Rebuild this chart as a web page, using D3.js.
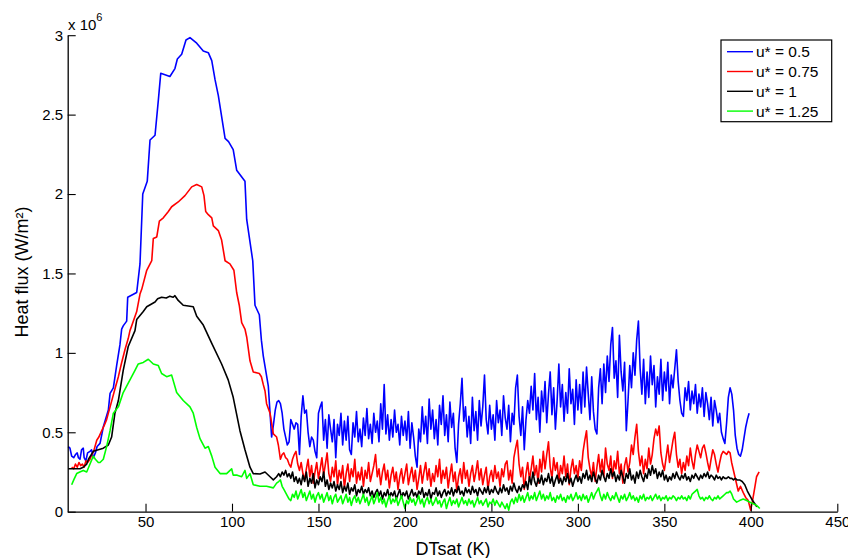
<!DOCTYPE html>
<html>
<head>
<meta charset="utf-8">
<script src="https://cdn.jsdelivr.net/npm/d3@7"></script>
<style>
  body { margin: 0; background: #fff; }
  svg { display: block; font-family: "Liberation Sans", Arial, Helvetica, sans-serif; }
</style>
</head>
<body>
<svg id="chart" width="848" height="558"></svg>
<script>
// Axis ticks: DTsat in K, heat flux in units of 10^6 W/m²
const xTicks = [50, 100, 150, 200, 250, 300, 350, 400, 450];
const yTicks = [0, 0.5, 1, 1.5, 2, 2.5, 3];

const seriesLabels = ["u* = 0.5", "u* = 0.75", "u* = 1", "u* = 1.25"];
const seriesColors = ["#0000ff", "#ff0000", "#000000", "#00ff00"];

// ---- u* = 0.5 ----
// boiling peak (irregular DTsat spacing)
const u05LeadT = [5.3, 6.3, 7.3, 8.5, 9.5, 10.5, 11.2, 12.1, 13.0, 14.0, 14.5, 15.5, 16.5, 17.9, 18.8, 19.8, 21.0, 22.0,
  23.7, 25.6, 28.5, 29.5, 31.4, 33.3, 35.2, 36.2, 37.1, 39.1, 39.7, 44.9, 46.8, 48.4, 51.0, 52.6, 55.5, 57.4, 58.8,
  64.1, 67.0, 68.4, 70.9, 73.4, 75.7, 79.6, 83.4, 86.3, 88.3, 90.2, 92.1, 96.0, 98.0, 100.7, 102.7, 107.5, 108.5,
  112.0, 113.3, 115.8, 117.0, 118.1, 121.0, 122.9];
const u05LeadQ = [0.41, 0.40, 0.35, 0.34, 0.36, 0.37, 0.34, 0.33, 0.39, 0.40, 0.34, 0.32, 0.37, 0.38, 0.39, 0.34, 0.37, 0.41,
  0.43, 0.535, 0.64, 0.745, 0.78, 0.92, 1.05, 1.15, 1.17, 1.20, 1.35, 1.38, 1.56, 2.00, 2.08, 2.34, 2.37, 2.59, 2.76,
  2.74, 2.79, 2.85, 2.88, 2.97, 2.985, 2.95, 2.90, 2.89, 2.84, 2.72, 2.62, 2.35, 2.33, 2.28, 2.15, 2.08, 1.84,
  1.58, 1.30, 1.24, 1.08, 0.98, 0.79, 0.47];
// film-boiling plateau, one reading per 1 K from DTsat = 124 K
const u05NoiseFrom = 124;
const u05Noise = [
  0.55, 0.64, 0.69, 0.70, 0.68, 0.62, 0.52, 0.47, 0.42, 0.44, 0.58, 0.55, 0.52, 0.56, 0.55, 0.36, 0.60, 0.73, 0.62, 0.64,
  0.50, 0.41, 0.47, 0.45, 0.38, 0.34, 0.62,
  0.66, 0.69, 0.45, 0.58, 0.40, 0.61, 0.52, 0.44, 0.58, 0.34, 0.55, 0.48, 0.62, 0.42, 0.57, 0.45, 0.60, 0.39, 0.36, 0.56,
  0.47, 0.63, 0.44, 0.52, 0.41, 0.59, 0.48, 0.65, 0.46, 0.55, 0.43, 0.62, 0.50, 0.57, 0.44, 0.68, 0.52, 0.80, 0.49, 0.61,
  0.45, 0.58, 0.47, 0.64, 0.50, 0.55, 0.42, 0.60, 0.48, 0.57,
  0.45, 0.63, 0.40, 0.56, 0.47, 0.35, 0.28, 0.52, 0.44, 0.66, 0.49, 0.60, 0.43, 0.71, 0.52, 0.64, 0.46, 0.58, 0.42, 0.67,
  0.55, 0.73, 0.48, 0.61, 0.44, 0.69, 0.53, 0.62, 0.40, 0.31, 0.55, 0.68, 0.84, 0.57, 0.66, 0.47, 0.60, 0.43, 0.72, 0.51,
  0.63, 0.45, 0.70, 0.54, 0.66, 0.86, 0.58, 0.49, 0.67, 0.52,
  0.61, 0.45, 0.70, 0.56, 0.64, 0.48, 0.73, 0.59, 0.52, 0.67, 0.44, 0.62, 0.55, 0.78, 0.86, 0.60, 0.48, 0.66, 0.39, 0.58,
  0.70, 0.62, 0.79, 0.64, 0.87, 0.58, 0.72, 0.50, 0.76, 0.63, 0.82, 0.56, 0.74, 0.88, 0.61, 0.78, 0.52, 0.70, 0.93, 0.66,
  0.80, 0.57, 0.75, 0.62, 0.90, 0.68, 0.77, 0.55, 0.83, 0.64,
  0.80, 0.62, 0.88, 0.66, 0.91, 0.74, 0.58, 0.85, 0.63, 0.52, 0.49, 0.78, 0.90, 0.68, 0.93, 0.75, 0.98, 0.82, 1.05, 1.16,
  0.84, 0.95, 0.72, 1.11, 0.88, 0.76, 0.94, 0.51, 0.70, 0.92, 0.78, 1.00, 0.86, 1.08, 1.20, 0.90, 0.74, 0.96, 0.68, 0.88,
  0.72, 0.98, 0.80, 0.92, 0.66, 0.85, 0.74, 0.96, 0.70, 0.88,
  0.76, 0.94, 0.68, 0.86, 0.78, 0.90, 1.02, 0.82, 0.70, 0.62, 0.60, 0.78, 0.70, 0.82, 0.64, 0.76, 0.68, 0.80, 0.62, 0.74,
  0.66, 0.78, 0.60, 0.75, 0.68, 0.58, 0.72, 0.54, 0.70, 0.64, 0.56, 0.62, 0.50, 0.46, 0.43, 0.56, 0.72, 0.78, 0.74, 0.64,
  0.48, 0.40, 0.36, 0.35, 0.39, 0.46, 0.53, 0.58, 0.62];
const u05TailT = [];
const u05TailQ = [];

// ---- u* = 0.75 ----
const u075LeadT = [7.3, 8.5, 9.5, 10.5, 11.5, 12.5, 13.5, 14.5, 15.5, 16.5, 17.9, 19.0, 20.0, 21.8, 23.0, 24.7, 26.0,
  27.5, 29.5, 31.0, 32.5, 34.3, 36.0, 38.1, 40.0, 41.0, 42.0, 44.9, 46.8, 47.8, 50.7, 53.6, 54.5, 56.5, 58.0, 60.3,
  63.2, 65.1, 68.9, 72.8, 76.7, 79.6, 82.5, 83.8, 84.8, 86.3, 88.3, 89.2, 92.1, 94.0, 96.0, 98.8, 101.1, 102.7,
  104.2, 105.6, 107.5, 108.5, 110.4, 112.3, 115.8, 117.0, 118.1, 119.1, 120.0, 122.0, 123.9, 125.8, 126.8];
const u075LeadQ = [0.28, 0.27, 0.30, 0.28, 0.31, 0.29, 0.30, 0.28, 0.32, 0.31, 0.33, 0.36, 0.38, 0.45, 0.47, 0.51, 0.54,
  0.58, 0.66, 0.72, 0.78, 0.85, 0.93, 1.02, 1.09, 1.14, 1.17, 1.26, 1.37, 1.40, 1.52, 1.58, 1.72, 1.73, 1.83, 1.85,
  1.89, 1.92, 1.95, 1.99, 2.045, 2.06, 2.045, 1.99, 1.89, 1.87, 1.85, 1.80, 1.77, 1.71, 1.58, 1.56, 1.52, 1.38,
  1.30, 1.19, 1.15, 1.10, 0.95, 0.88, 0.87, 0.85, 0.80, 0.76, 0.68, 0.62, 0.49, 0.47, 0.42];
const u075NoiseFrom = 128;
const u075Noise = [
  0.33, 0.36, 0.37, 0.34, 0.33, 0.30, 0.28, 0.33, 0.36, 0.38, 0.30, 0.26, 0.31, 0.24, 0.20, 0.27, 0.33, 0.22, 0.29, 0.18,
  0.25, 0.31, 0.21, 0.27, 0.34, 0.23, 0.30, 0.37, 0.24, 0.19, 0.28, 0.22, 0.32, 0.17, 0.26, 0.21, 0.29, 0.15, 0.24, 0.30,
  0.19, 0.27, 0.22, 0.33, 0.18, 0.25, 0.20, 0.28, 0.16, 0.26, 0.21, 0.31, 0.19, 0.24, 0.29, 0.36, 0.22, 0.27, 0.17, 0.25,
  0.30, 0.20, 0.26, 0.15, 0.23, 0.28, 0.19, 0.25, 0.14, 0.22, 0.27, 0.18, 0.24,
  0.30, 0.17, 0.23, 0.28, 0.19, 0.26, 0.14, 0.21, 0.29, 0.18, 0.25, 0.31, 0.20, 0.27, 0.16, 0.24, 0.19, 0.29, 0.22, 0.33,
  0.18, 0.26, 0.21, 0.28, 0.15, 0.23, 0.30, 0.19, 0.25, 0.13, 0.22, 0.27, 0.18, 0.31, 0.21, 0.26, 0.16, 0.24, 0.29, 0.19,
  0.25, 0.32, 0.20, 0.27, 0.17, 0.23, 0.28, 0.14, 0.22, 0.26,
  0.19, 0.29, 0.21, 0.25, 0.16, 0.27, 0.22, 0.30, 0.32, 0.20, 0.26, 0.18, 0.34, 0.40, 0.45, 0.30, 0.22, 0.28, 0.14, 0.24,
  0.31, 0.20, 0.27, 0.35, 0.23, 0.29, 0.18, 0.33, 0.25, 0.38, 0.27, 0.36, 0.44, 0.28, 0.21, 0.34, 0.26, 0.31, 0.19, 0.29,
  0.24, 0.35, 0.22, 0.30, 0.17, 0.27, 0.33, 0.24, 0.29, 0.21,
  0.32, 0.26, 0.38, 0.45, 0.51, 0.34, 0.27, 0.22, 0.31, 0.19, 0.28, 0.36, 0.25, 0.33, 0.22, 0.40, 0.30, 0.26, 0.35, 0.21,
  0.32, 0.27, 0.38, 0.24, 0.30, 0.18, 0.29, 0.34, 0.25, 0.31, 0.42, 0.36, 0.47, 0.55, 0.38, 0.29, 0.35, 0.24, 0.33, 0.27,
  0.40, 0.30, 0.36, 0.46, 0.52, 0.48, 0.54, 0.37, 0.30, 0.26,
  0.34, 0.42, 0.31, 0.38, 0.45, 0.50, 0.36, 0.28, 0.33, 0.24, 0.31, 0.26, 0.35, 0.29, 0.40, 0.32, 0.27, 0.36, 0.42, 0.38,
  0.34, 0.40, 0.42, 0.37, 0.31, 0.26, 0.33, 0.39, 0.36, 0.30, 0.25, 0.31, 0.36, 0.38, 0.37, 0.36];
const u075TailT = [387.0, 388.0, 388.9, 390.8, 392.7, 394.0, 395.6, 397.0, 398.5, 399.9, 401.0, 402.4, 403.3, 404.8];
const u075TailQ = [0.38, 0.37, 0.31, 0.22, 0.13, 0.16, 0.12, 0.09, 0.07, 0.01, 0.07, 0.16, 0.22, 0.25];

// ---- u* = 1 ----
const u1LeadT = [5.3, 7.0, 9.0, 11.0, 12.1, 14.0, 16.0, 17.0, 19.8, 22.7, 25.6, 28.5, 30.4, 32.3, 34.3, 37.1, 40.0,
  43.9, 44.9, 48.7, 50.7, 55.5, 57.0, 59.3, 62.0, 64.1, 66.0, 67.0, 68.9, 71.8, 77.6, 79.6, 83.4, 88.3, 94.0, 97.8,
  100.7, 104.6, 107.5, 110.4, 112.3, 116.2, 119.1, 122.0, 123.9, 125.8];
const u1LeadQ = [0.27, 0.27, 0.27, 0.27, 0.27, 0.28, 0.30, 0.33, 0.38, 0.39, 0.40, 0.42, 0.47, 0.62, 0.70, 0.89, 1.04,
  1.14, 1.21, 1.26, 1.29, 1.32, 1.34, 1.35, 1.345, 1.357, 1.35, 1.36, 1.33, 1.30, 1.29, 1.23, 1.175, 1.06, 0.93, 0.83,
  0.72, 0.51, 0.39, 0.28, 0.24, 0.237, 0.25, 0.22, 0.20, 0.22];
const u1NoiseFrom = 127;
const u1Noise = [
  0.24, 0.22, 0.25, 0.23, 0.26, 0.22, 0.24, 0.21, 0.25, 0.19, 0.22, 0.18, 0.21, 0.17, 0.23, 0.19, 0.25, 0.16, 0.21, 0.18,
  0.24, 0.15, 0.20, 0.17, 0.22, 0.19, 0.25, 0.16, 0.20, 0.14, 0.18, 0.15, 0.19, 0.13, 0.17, 0.14, 0.19, 0.12, 0.16, 0.13,
  0.18, 0.11, 0.15, 0.13, 0.17, 0.10, 0.14, 0.12, 0.16, 0.11, 0.14, 0.12, 0.15, 0.10, 0.13, 0.09, 0.12, 0.14, 0.10, 0.13,
  0.08, 0.12, 0.10, 0.14, 0.09, 0.12, 0.10, 0.13, 0.08, 0.11, 0.14, 0.09, 0.12, 0.10,
  0.13, 0.08, 0.11, 0.14, 0.10, 0.12, 0.09, 0.13, 0.11, 0.15, 0.09, 0.12, 0.10, 0.14, 0.08, 0.12, 0.11, 0.15, 0.10, 0.13,
  0.09, 0.12, 0.14, 0.10, 0.13, 0.11, 0.15, 0.10, 0.14, 0.12, 0.16, 0.11, 0.13, 0.10, 0.15, 0.12, 0.14, 0.11, 0.16, 0.12,
  0.14, 0.10, 0.15, 0.13, 0.11, 0.15, 0.12, 0.16, 0.11, 0.14,
  0.12, 0.16, 0.13, 0.11, 0.15, 0.12, 0.17, 0.13, 0.15, 0.11, 0.16, 0.13, 0.18, 0.14, 0.12, 0.16, 0.13, 0.17, 0.15, 0.19,
  0.14, 0.22, 0.17, 0.25, 0.19, 0.16, 0.21, 0.18, 0.23, 0.17, 0.21, 0.19, 0.24, 0.18, 0.22, 0.16, 0.20, 0.23, 0.18, 0.21,
  0.17, 0.22, 0.19, 0.24, 0.18, 0.21, 0.16, 0.20, 0.23, 0.19, 0.22, 0.18, 0.24, 0.21, 0.26, 0.20, 0.23, 0.19, 0.25, 0.21,
  0.18, 0.23, 0.20, 0.26, 0.22, 0.19, 0.24, 0.21, 0.27, 0.22, 0.25, 0.19, 0.23, 0.20, 0.26, 0.22, 0.18, 0.24, 0.21, 0.27,
  0.20, 0.23, 0.18, 0.25, 0.21, 0.26, 0.22, 0.19, 0.24, 0.21,
  0.27, 0.23, 0.29, 0.24, 0.27, 0.21, 0.25, 0.22, 0.26, 0.20, 0.23, 0.19, 0.22, 0.20, 0.24, 0.21, 0.25, 0.22, 0.20, 0.23,
  0.21, 0.24, 0.20, 0.22, 0.19, 0.23, 0.21, 0.24, 0.22, 0.20, 0.23, 0.21, 0.24, 0.22, 0.25, 0.21, 0.23, 0.22, 0.20, 0.23,
  0.21, 0.22, 0.20, 0.22, 0.21, 0.21, 0.22, 0.21, 0.21, 0.20, 0.21, 0.20];
const u1TailT = [393.5, 395.0, 396.5, 398.0, 399.5, 401.0, 402.3, 403.5];
const u1TailQ = [0.20, 0.19, 0.17, 0.13, 0.10, 0.07, 0.05, 0.03];

// ---- u* = 1.25 ----
const u125LeadT = [7.3, 8.5, 10.2, 12.0, 14.0, 16.0, 17.9, 19.8, 21.0, 22.7, 23.7, 25.6, 27.5, 29.5, 31.4, 34.3, 37.1,
  41.0, 43.9, 45.8, 48.7, 51.6, 54.5, 57.4, 59.3, 62.2, 65.1, 68.0, 71.8, 75.7, 77.6, 79.6, 81.5, 84.4, 86.3, 88.3,
  90.2, 93.1, 96.9, 99.8, 100.7, 103.0, 105.6, 107.5, 108.5, 110.4, 112.3, 116.2, 120.0, 123.9, 125.8];
const u125LeadQ = [0.17, 0.20, 0.24, 0.25, 0.26, 0.25, 0.30, 0.35, 0.33, 0.31, 0.31, 0.33, 0.41, 0.51, 0.62, 0.66, 0.75,
  0.83, 0.89, 0.93, 0.94, 0.96, 0.93, 0.92, 0.87, 0.85, 0.86, 0.75, 0.70, 0.66, 0.62, 0.53, 0.46, 0.40, 0.41, 0.35,
  0.28, 0.24, 0.24, 0.27, 0.23, 0.23, 0.22, 0.26, 0.21, 0.24, 0.17, 0.16, 0.16, 0.15, 0.18];
const u125NoiseFrom = 127;
const u125Noise = [
  0.19, 0.20, 0.16, 0.14, 0.12, 0.10, 0.08, 0.07, 0.11, 0.09, 0.13, 0.08, 0.11, 0.14, 0.09, 0.12, 0.07, 0.10, 0.13, 0.08,
  0.11, 0.06, 0.10, 0.12, 0.08, 0.11, 0.06, 0.09, 0.12, 0.07, 0.10, 0.05, 0.09, 0.11, 0.06, 0.08, 0.10, 0.05, 0.08, 0.11,
  0.06, 0.09, 0.04, 0.08, 0.10, 0.06, 0.09, 0.05, 0.08, 0.11, 0.06, 0.09, 0.04, 0.07, 0.10, 0.05, 0.08, 0.12, 0.06, 0.09,
  0.05, 0.08, 0.03, 0.07, 0.10, 0.05, 0.08, 0.06, 0.09, 0.04, 0.07, 0.10, 0.06, 0.02,
  0.07, 0.05, 0.09, 0.06, 0.08, 0.04, 0.07, 0.10, 0.05, 0.08, 0.03, 0.07, 0.09, 0.05, 0.08, 0.04, 0.06, 0.09, 0.05, 0.07,
  0.03, 0.06, 0.08, 0.02, 0.06, 0.09, 0.04, 0.07, 0.05, 0.08, 0.03, 0.06, 0.09, 0.05, 0.07, 0.04, 0.08, 0.05, 0.07, 0.03,
  0.06, 0.09, 0.05, 0.07, 0.04, 0.06, 0.08, 0.03, 0.06, 0.05,
  0.08, 0.04, 0.07, 0.05, 0.03, 0.06, 0.04, 0.02, 0.05, 0.01, 0.06, 0.08, 0.05, 0.09, 0.06, 0.11, 0.07, 0.10, 0.06, 0.09,
  0.12, 0.07, 0.10, 0.08, 0.12, 0.07, 0.10, 0.13, 0.08, 0.11, 0.07, 0.10, 0.08, 0.12, 0.07, 0.09, 0.06, 0.10, 0.08, 0.11,
  0.07, 0.09, 0.06, 0.10, 0.08, 0.11, 0.07, 0.09, 0.12, 0.08, 0.10, 0.07, 0.11, 0.08, 0.10, 0.06, 0.09, 0.12, 0.08, 0.11,
  0.13, 0.15, 0.10, 0.07, 0.11, 0.08, 0.12, 0.09, 0.07, 0.10, 0.08, 0.12, 0.09, 0.06, 0.10, 0.08, 0.11, 0.07, 0.09, 0.12,
  0.08, 0.10, 0.07, 0.09, 0.06, 0.10, 0.08, 0.11, 0.07, 0.09,
  0.08, 0.10, 0.07, 0.09, 0.11, 0.08, 0.10, 0.07, 0.09, 0.08, 0.10, 0.07, 0.09, 0.08, 0.10, 0.09, 0.07, 0.09, 0.08, 0.10,
  0.08, 0.09, 0.07, 0.10, 0.08, 0.11, 0.12, 0.13, 0.14, 0.10, 0.08, 0.09, 0.07, 0.09, 0.08, 0.10, 0.08, 0.07, 0.09, 0.08,
  0.10, 0.08, 0.09, 0.10, 0.11, 0.12, 0.12, 0.13, 0.11, 0.08];
const u125TailT = [391.8, 393.5, 395.6, 397.6, 399.5, 401.4, 403.3, 405.2];
const u125TailQ = [0.06, 0.07, 0.08, 0.07, 0.06, 0.05, 0.04, 0.02];

// Join the irregular readings with the 1 K sweep into one [DTsat, flux] list
function assemble(leadT, leadQ, from, noise, tailT, tailQ) {
  const pts = leadT.map((t, i) => [t, leadQ[i]]);
  noise.forEach((q, i) => pts.push([from + i, q]));
  tailT.forEach((t, i) => pts.push([t, tailQ[i]]));
  return pts;
}

const series = [
  assemble(u05LeadT, u05LeadQ, u05NoiseFrom, u05Noise, u05TailT, u05TailQ),
  assemble(u075LeadT, u075LeadQ, u075NoiseFrom, u075Noise, u075TailT, u075TailQ),
  assemble(u1LeadT, u1LeadQ, u1NoiseFrom, u1Noise, u1TailT, u1TailQ),
  assemble(u125LeadT, u125LeadQ, u125NoiseFrom, u125Noise, u125TailT, u125TailQ)
];

const svg = d3.select("#chart");
const plotLeft = 67.7, plotRight = 837.3, plotTop = 35.2, plotBottom = 511.7;

const x = d3.scaleLinear().domain([5, 450]).range([plotLeft, plotRight]);
const y = d3.scaleLinear().domain([0, 3]).range([plotBottom, plotTop]);

// curves
const line = d3.line().x(d => x(d[0])).y(d => y(d[1]));
const plot = svg.append("g");
series.forEach((pts, i) => {
  plot.append("path")
    .datum(pts)
    .attr("fill", "none")
    .attr("stroke", seriesColors[i])
    .attr("stroke-width", 1.6)
    .attr("stroke-linejoin", "round")
    .attr("d", line);
});

// axes with inward ticks
const xAxis = d3.axisBottom(x).tickValues(xTicks).tickSizeInner(-8).tickSizeOuter(0).tickPadding(4.5)
  .tickFormat(d3.format("d"));
const gx = svg.append("g").attr("transform", `translate(0,${plotBottom})`).call(xAxis);

const yAxis = d3.axisLeft(y).tickValues(yTicks).tickSizeInner(-8).tickSizeOuter(0).tickPadding(4.5)
  .tickFormat(d => String(d));
const gy = svg.append("g").attr("transform", `translate(${plotLeft},0)`).call(yAxis);

[gx, gy].forEach(g => {
  g.selectAll("text").attr("font-size", 15).attr("fill", "#000")
    .attr("font-family", "'Liberation Sans', Arial, sans-serif");
  g.selectAll("line").attr("stroke", "#000").attr("stroke-width", 1.1);
  g.select(".domain").attr("stroke", "#000").attr("stroke-width", 1.3);
});

// exponent marker above the flux axis
const expo = svg.append("text").attr("x", 68).attr("y", 30).attr("font-size", 15).attr("fill", "#000");
expo.append("tspan").text("x 10");
expo.append("tspan").attr("dy", -9).attr("font-size", 11).text("6");

// axis titles
svg.append("text")
  .attr("x", 453).attr("y", 555)
  .attr("text-anchor", "middle").attr("font-size", 18).attr("fill", "#000")
  .text("DTsat (K)");

svg.append("text")
  .attr("transform", `translate(28,${272}) rotate(-90)`)
  .attr("text-anchor", "middle").attr("font-size", 18).attr("fill", "#000")
  .text("Heat flux (W/m²)");

// legend
const legend = svg.append("g");
legend.append("rect")
  .attr("x", 721).attr("y", 40).attr("width", 110.7).attr("height", 81.7)
  .attr("fill", "#fff").attr("stroke", "#000").attr("stroke-width", 1.2);
seriesLabels.forEach((label, i) => {
  const cy = 51.7 + i * 19.8;
  legend.append("line")
    .attr("x1", 727).attr("x2", 753).attr("y1", cy).attr("y2", cy)
    .attr("stroke", seriesColors[i]).attr("stroke-width", 1.4);
  legend.append("text")
    .attr("x", 756).attr("y", cy).attr("dy", "0.36em")
    .attr("font-size", 15.5).attr("fill", "#000")
    .text(label);
});
</script>
</body>
</html>
